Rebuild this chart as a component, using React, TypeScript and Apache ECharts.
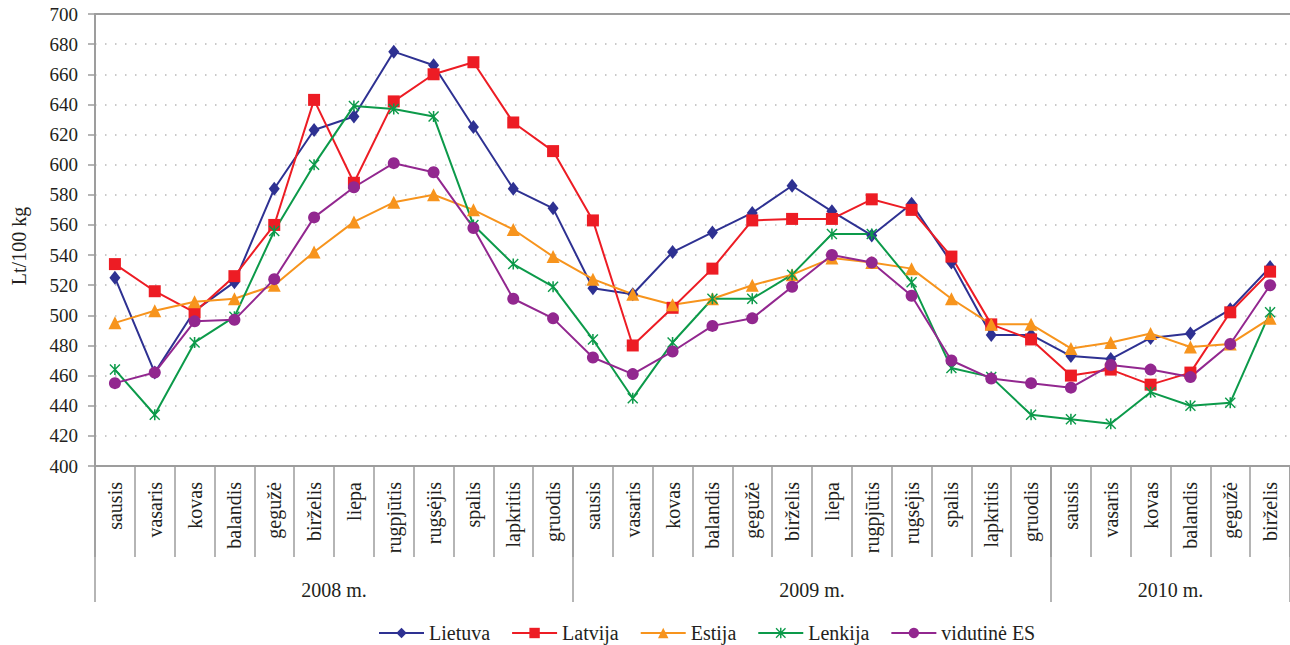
import React, { useEffect, useRef } from "react";
import * as echarts from "echarts";

const months = [
  "sausis", "vasaris", "kovas", "balandis", "gegužė", "birželis", "liepa", "rugpjūtis", "rugsėjis", "spalis", "lapkritis", "gruodis",
  "sausis", "vasaris", "kovas", "balandis", "gegužė", "birželis", "liepa", "rugpjūtis", "rugsėjis", "spalis", "lapkritis", "gruodis",
  "sausis", "vasaris", "kovas", "balandis", "gegužė", "birželis",
];
const years = ["2008 m.", "2009 m.", "2010 m."];
const yearBoundaries = [0, 12, 24, 30];
const yearCenters = [6, 18, 27];

const lietuva = [525, 462, 503, 522, 584, 623, 632, 675, 666, 625, 584, 571, 518, 514, 542, 555, 568, 586, 569, 553, 574, 535, 487, 487, 473, 471, 485, 488, 504, 532];
const latvija = [534, 516, 502, 526, 560, 643, 588, 642, 660, 668, 628, 609, 563, 480, 505, 531, 563, 564, 564, 577, 570, 539, 494, 484, 460, 464, 454, 462, 502, 529];
const estija = [495, 503, 509, 511, 520, 542, 562, 575, 580, 570, 557, 539, 524, 514, 507, 511, 520, 527, 538, 535, 531, 511, 494, 494, 478, 482, 488, 479, 481, 498];
const lenkija = [464, 434, 482, 499, 556, 600, 639, 637, 632, 560, 534, 519, 484, 445, 482, 511, 511, 527, 554, 554, 522, 465, 459, 434, 431, 428, 449, 440, 442, 502];
const vidutineES = [455, 462, 496, 497, 524, 565, 585, 601, 595, 558, 511, 498, 472, 461, 476, 493, 498, 519, 540, 535, 513, 470, 458, 455, 452, 467, 464, 459, 481, 520];

const FONT = "Times New Roman, Liberation Serif, serif";
const TEXT = "#231f20";
const AXIS = "#9d9d9d";
const ASTERISK =
  "path://M4.3,0 L5.7,0 L5.7,10 L4.3,10 Z M0,0.9 L0.9,0 L10,9.1 L9.1,10 Z M9.1,0 L10,0.9 L0.9,10 L0,9.1 Z";

export default function App() {
  const ref = useRef<HTMLDivElement>(null);
  useEffect(() => {
    if (!ref.current) return;
    const chart = echarts.init(ref.current, null, { renderer: "svg" });
    const mk = (name: string, data: number[], color: string, symbol: string, size: any) => ({
      name,
      type: "line",
      data,
      xAxisIndex: 0,
      yAxisIndex: 0,
      symbol,
      symbolSize: size,
      showSymbol: true,
      lineStyle: { color, width: 2 },
      itemStyle: { color, borderWidth: 0 },
      emphasis: { disabled: true },
    });
    chart.setOption({
      animation: false,
      backgroundColor: "#ffffff",
      textStyle: { fontFamily: FONT },
      grid: { left: 95, right: 0, top: 14, bottom: 179, containLabel: false },
      legend: {
        left: 373,
        top: 618,
        itemWidth: 45,
        itemHeight: 13,
        itemGap: 21,
        textStyle: { fontFamily: FONT, fontSize: 20, color: TEXT },
        data: ["Lietuva", "Latvija", "Estija", "Lenkija", "vidutinė ES"],
      },
      xAxis: [
        {
          type: "category",
          data: months,
          position: "bottom",
          boundaryGap: true,
          axisLine: { show: true, lineStyle: { color: AXIS, width: 2 } },
          axisTick: { show: true, interval: 0, length: 91, lineStyle: { color: AXIS, width: 1.5 } },
          axisLabel: { interval: 0, rotate: 90, margin: 16, fontFamily: FONT, fontSize: 20, color: TEXT },
          splitLine: { show: false },
        },
        {
          type: "value",
          min: 0,
          max: 30,
          position: "bottom",
          axisLine: { show: false },
          axisTick: { show: true, customValues: yearBoundaries, length: 136, lineStyle: { color: AXIS, width: 1.5 } },
          axisLabel: {
            show: true,
            customValues: yearCenters,
            margin: 114,
            fontFamily: FONT,
            fontSize: 20,
            color: TEXT,
            formatter: (v: number) => years[yearCenters.indexOf(v)] ?? "",
          },
          splitLine: { show: false },
        },
        {
          type: "value",
          min: 0,
          max: 30,
          position: "top",
          axisLine: { show: true, lineStyle: { color: AXIS, width: 2 } },
          axisTick: { show: false },
          axisLabel: { show: false },
          splitLine: { show: false },
        },
      ],
      yAxis: {
        type: "value",
        min: 400,
        max: 700,
        interval: 20,
        name: "Lt/100 kg",
        nameLocation: "middle",
        nameGap: 66,
        nameTextStyle: { fontFamily: FONT, fontSize: 20, color: TEXT, padding: [0, 12, 0, 0] },
        axisLine: { show: true, lineStyle: { color: AXIS, width: 2 } },
        axisTick: { show: true, length: 7, lineStyle: { color: AXIS, width: 1.5 } },
        axisLabel: { margin: 17, fontFamily: FONT, fontSize: 19, color: TEXT },
        splitLine: { show: true, lineStyle: { color: "#b8b8b8", width: 1.5, type: [1.5, 8.5] } },
      },
      series: [
        mk("Lietuva", lietuva, "#2e3192", "diamond", [11, 14]),
        mk("Latvija", latvija, "#ed1c24", "rect", 12),
        mk("Estija", estija, "#f7941d", "triangle", 13),
        mk("Lenkija", lenkija, "#0c9a4a", ASTERISK, 11),
        mk("vidutinė ES", vidutineES, "#92278f", "circle", 12),
      ],
    });
    return () => chart.dispose();
  }, []);
  return (
    <div
      ref={ref}
      style={{ position: "fixed", left: 0, top: 0, width: 1290, height: 645, background: "#fff" }}
    />
  );
}
